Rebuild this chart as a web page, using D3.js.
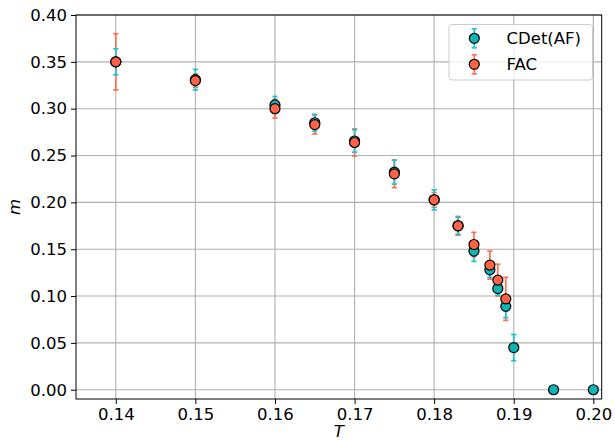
<!DOCTYPE html>
<html lang="en">
<head>
<meta charset="utf-8">
<title>m vs T</title>
<script src="https://d3js.org/d3.v7.min.js"></script>
<style>
  body { margin: 0; background: #fff; }
  text { font-family: "DejaVu Sans", sans-serif; }
</style>
</head>
<body>
<script>
// DATA
var tCdet = [0.14, 0.15, 0.16, 0.165, 0.17, 0.175, 0.18, 0.183, 0.185, 0.187, 0.188, 0.189, 0.19, 0.195, 0.20];
var mCdet = [0.350, 0.331, 0.304, 0.285, 0.2655, 0.2323, 0.2027, 0.175, 0.148, 0.128, 0.108, 0.089, 0.045, 0.0, 0.0];
var eCdet = [0.014, 0.011, 0.009, 0.009, 0.012, 0.0128, 0.0107, 0.009, 0.011, 0.008, 0.007, 0.012, 0.014, 0, 0];

var tFac = [0.14, 0.15, 0.16, 0.165, 0.17, 0.175, 0.18, 0.183, 0.185, 0.187, 0.188, 0.189];
var mFac = [0.350, 0.330, 0.300, 0.283, 0.2639, 0.2305, 0.2027, 0.175, 0.155, 0.133, 0.117, 0.097];
var eFac = [0.030, 0.007, 0.010, 0.010, 0.0145, 0.0148, 0.0078, 0.010, 0.013, 0.015, 0.017, 0.023];

var xTicks = [0.14, 0.15, 0.16, 0.17, 0.18, 0.19, 0.20];
var yTicks = [0.00, 0.05, 0.10, 0.15, 0.20, 0.25, 0.30, 0.35, 0.40];
var seriesNames = ["CDet(AF)", "FAC"];

// SIZES
var w = 615, h = 443;
var pLeft = 76, pRight = 601.7, pTop = 15, pBottom = 399;
var fontSize = "16.5px";

var series = [
  {name: seriesNames[0], t: tCdet, m: mCdet, e: eCdet, fill: "#0fb4b4", bar: "#22c4cc"},
  {name: seriesNames[1], t: tFac, m: mFac, e: eFac, fill: "#ff6347", bar: "#ff7153"}
];

var x = d3.scaleLinear().domain([0.135, 0.20105]).range([pLeft, pRight]);
var y = d3.scaleLinear().domain([-0.0099, 0.40]).range([pBottom, pTop]);

var svg = d3.select("body").append("svg")
  .attr("width", w).attr("height", h);

// GRID
svg.append("g").selectAll("line").data(xTicks).enter().append("line")
  .attr("x1", function(d) { return x(d); }).attr("x2", function(d) { return x(d); })
  .attr("y1", pTop).attr("y2", pBottom)
  .attr("stroke", "#b0b0b0").attr("stroke-width", 1.1);
svg.append("g").selectAll("line").data(yTicks).enter().append("line")
  .attr("x1", pLeft).attr("x2", pRight)
  .attr("y1", function(d) { return y(d); }).attr("y2", function(d) { return y(d); })
  .attr("stroke", "#b0b0b0").attr("stroke-width", 1.1);

// AXES
var xAxis = svg.append("g")
  .attr("transform", "translate(0," + pBottom + ")")
  .call(d3.axisBottom(x).tickValues(xTicks).tickFormat(d3.format(".2f")).tickSize(5).tickPadding(4));
var yAxis = svg.append("g")
  .attr("transform", "translate(" + pLeft + ",0)")
  .call(d3.axisLeft(y).tickValues(yTicks).tickFormat(d3.format(".2f")).tickSize(5).tickPadding(4));
[xAxis, yAxis].forEach(function(a) {
  a.attr("font-size", fontSize).attr("font-family", "DejaVu Sans, sans-serif");
  a.select(".domain").remove();
  a.selectAll("line").attr("stroke", "#000").attr("stroke-width", 1);
  a.selectAll("text").attr("fill", "#000");
});

// SPINES
svg.append("rect")
  .attr("x", pLeft).attr("y", pTop)
  .attr("width", pRight - pLeft).attr("height", pBottom - pTop)
  .attr("fill", "none").attr("stroke", "#000").attr("stroke-width", 1);

// ERROR BARS (FAC first, then CDet)
var capW = 2.6;
[series[1], series[0]].forEach(function(s) {
  var g = svg.append("g").attr("stroke", s.bar).attr("stroke-width", 1.7);
  s.t.forEach(function(t, i) {
    if (!s.e[i]) return;
    var cx = x(t), y1 = y(s.m[i] + s.e[i]), y2 = y(s.m[i] - s.e[i]);
    g.append("line").attr("x1", cx).attr("x2", cx).attr("y1", y1).attr("y2", y2);
    g.append("line").attr("x1", cx - capW).attr("x2", cx + capW).attr("y1", y1).attr("y2", y1);
    g.append("line").attr("x1", cx - capW).attr("x2", cx + capW).attr("y1", y2).attr("y2", y2);
  });
});

// MARKERS
series.forEach(function(s) {
  svg.append("g").selectAll("circle").data(s.t).enter().append("circle")
    .attr("cx", function(d) { return x(d); })
    .attr("cy", function(d, i) { return y(s.m[i]); })
    .attr("r", 5)
    .attr("fill", s.fill)
    .attr("stroke", "#000").attr("stroke-width", 1.2);
});

// AXIS LABELS
svg.append("text").attr("x", (pLeft + pRight) / 2).attr("y", 437)
  .attr("text-anchor", "middle").attr("font-size", fontSize).attr("font-style", "italic")
  .text("T");
svg.append("text")
  .attr("transform", "translate(20," + ((pTop + pBottom) / 2) + ") rotate(-90)")
  .attr("text-anchor", "middle").attr("font-size", fontSize).attr("font-style", "italic")
  .text("m");

// LEGEND
var lg = svg.append("g");
lg.append("rect").attr("x", 449).attr("y", 24.5).attr("width", 143.5).attr("height", 55.5)
  .attr("rx", 3).attr("fill", "#fff").attr("fill-opacity", 0.8)
  .attr("stroke", "#cccccc").attr("stroke-width", 1);
series.forEach(function(s, i) {
  var ly = 38.3 + i * 26, lx = 474.3;
  var gg = lg.append("g");
  gg.append("line").attr("x1", lx).attr("x2", lx).attr("y1", ly - 9.5).attr("y2", ly + 9.5)
    .attr("stroke", s.bar).attr("stroke-width", 1.7);
  gg.append("line").attr("x1", lx - capW).attr("x2", lx + capW).attr("y1", ly - 9.5).attr("y2", ly - 9.5)
    .attr("stroke", s.bar).attr("stroke-width", 1.7);
  gg.append("line").attr("x1", lx - capW).attr("x2", lx + capW).attr("y1", ly + 9.5).attr("y2", ly + 9.5)
    .attr("stroke", s.bar).attr("stroke-width", 1.7);
  gg.append("circle").attr("cx", lx).attr("cy", ly).attr("r", 5)
    .attr("fill", s.fill).attr("stroke", "#000").attr("stroke-width", 1.2);
  lg.append("text").attr("x", 506.5).attr("y", ly + 6)
    .attr("font-size", fontSize).attr("fill", "#000").text(s.name);
});
</script>
</body>
</html>
